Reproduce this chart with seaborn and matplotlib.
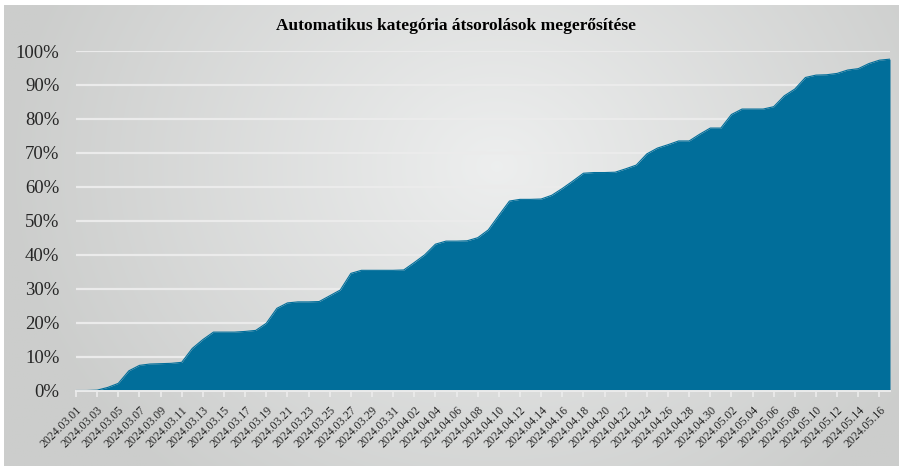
"""
Recreate the cumulative confirmation area chart.
"""

import matplotlib.pyplot as plt
import matplotlib.ticker as mticker
import numpy as np
import pandas as pd
import seaborn as sns

TITLE = "Automatikus kategória átsorolások megerősítése"

START_DATE = "2024-03-01"
END_DATE = "2024-05-17"

# cumulative share confirmed, one value per day (percent)
confirmed_pct = [
    0.0, 0.0, 0.1, 0.9, 2.1, 5.8, 7.4, 7.8, 7.9, 8.0,
    8.3, 12.4, 15.0, 17.2, 17.2, 17.2, 17.4, 17.7, 19.8, 24.2,
    25.8, 26.1, 26.1, 26.2, 27.9, 29.6, 34.5, 35.4, 35.4, 35.4,
    35.4, 35.5, 37.7, 40.0, 43.1, 44.0, 44.0, 44.1, 45.0, 47.3,
    51.6, 55.8, 56.3, 56.3, 56.4, 57.5, 59.5, 61.7, 64.0, 64.2,
    64.2, 64.3, 65.3, 66.4, 69.7, 71.4, 72.4, 73.5, 73.5, 75.5,
    77.3, 77.3, 81.3, 82.9, 82.9, 82.9, 83.6, 86.8, 88.8, 92.2,
    92.9, 93.0, 93.4, 94.4, 94.8, 96.3, 97.3, 97.6,
]

AREA_COLOR = "#016e9a"
SERIF = ["Liberation Serif", "DejaVu Serif"]


def draw_background(fig):
    """
    Grey radial gradient behind the whole chart.
    """

    bg = fig.add_axes([0.004, 0.0, 0.994, 0.99], zorder=-10)
    h, w = 300, 600
    yy, xx = np.mgrid[0:h, 0:w]
    dx = (xx / w - 0.55) / 0.55
    dy = (yy / h - 0.35) / 0.9
    r = np.clip(np.sqrt(dx ** 2 + dy ** 2), 0, 1)
    light = np.array([0.93, 0.935, 0.935])
    dark = np.array([0.80, 0.805, 0.80])
    img = light[None, None, :] * (1 - r[..., None]) + dark[None, None, :] * r[..., None]
    bg.imshow(img, aspect="auto", extent=[0, 1, 0, 1], origin="upper")
    bg.set_axis_off()


def main():
    sns.set_theme(style="white")
    plt.rcParams["font.family"] = SERIF

    dates = pd.date_range(START_DATE, END_DATE, freq="D")
    df = pd.DataFrame({
        "day": np.arange(len(dates)),
        "share": np.array(confirmed_pct) / 100.0,
    })

    fig = plt.figure(figsize=(9, 4.66), dpi=100)
    fig.patch.set_facecolor("white")
    draw_background(fig)

    ax = fig.add_axes([76 / 900, 1 - 390.5 / 466, (890 - 76) / 900, (390.5 - 51) / 466])
    ax.patch.set_alpha(0)

    sns.lineplot(data=df, x="day", y="share", color=AREA_COLOR, linewidth=0.8, ax=ax)
    ax.fill_between(df["day"], df["share"], color=AREA_COLOR, linewidth=0, zorder=3)

    ax.set_xlim(0, len(dates) - 1)
    ax.set_ylim(0, 1.0)

    ax.yaxis.set_major_locator(mticker.MultipleLocator(0.1))
    ax.yaxis.set_major_formatter(mticker.PercentFormatter(1.0, decimals=0))
    ax.grid(axis="y", color="#ebebeb", linewidth=1.6, zorder=1)
    ax.set_axisbelow(True)

    tick_days = df["day"][::2]
    ax.set_xticks(tick_days)
    ax.set_xticklabels(
        [d.strftime("%Y.%m.%d") for d in dates[::2]],
        rotation=45, ha="right", rotation_mode="anchor", fontsize=8.5,
    )
    ax.tick_params(axis="x", length=4, color="#ececec", width=1.2, pad=6, bottom=True)
    ax.tick_params(axis="y", length=0, labelsize=13.5, pad=12)

    for side in ["top", "right", "left"]:
        ax.spines[side].set_visible(False)
    ax.spines["bottom"].set_color("#ececec")
    ax.spines["bottom"].set_linewidth(1.4)
    ax.spines["bottom"].set_zorder(5)

    ax.set_xlabel("")
    ax.set_ylabel("")

    fig.text(456 / 900, 1 - 26 / 466, TITLE, ha="center", va="center",
             fontsize=12.5, fontweight="bold", color="black")

    fig.savefig("out.png", dpi=100)


if __name__ == "__main__":
    main()
